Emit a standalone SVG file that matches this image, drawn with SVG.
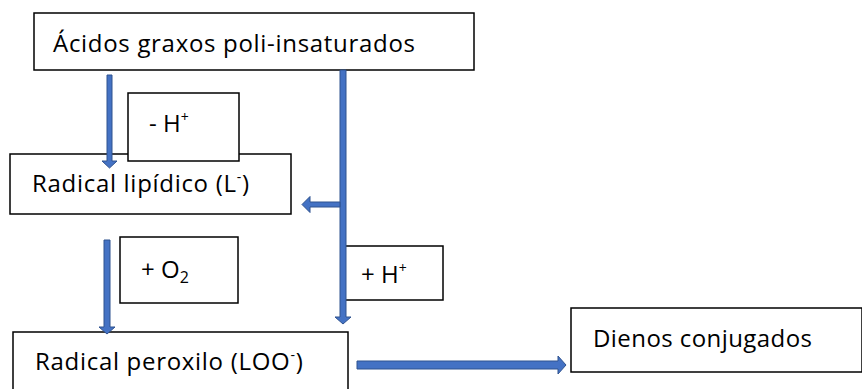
<svg xmlns="http://www.w3.org/2000/svg" width="862" height="389" viewBox="0 0 862 389">
<style>
.box{fill:#fff;stroke:#000;stroke-width:1.5}
.t{font-family:"Open Sans","Liberation Sans",sans-serif;font-size:24px;fill:#000}
.w{letter-spacing:0.7px}
.sup{font-size:14px}
.arr{fill:#4472C4;stroke:#2F528F;stroke-width:1}
</style>
<rect width="862" height="389" fill="#fff"/>
<g id="n-acidos">
<rect class="box" x="34" y="13" width="440" height="57"/>
<text class="t" x="53" y="52" textLength="362">Ácidos graxos poli-insaturados</text>
</g>
<g id="n-lipidico">
<rect class="box" x="10" y="154" width="281" height="60"/>
<text class="t w" x="32" y="192">Radical lipídico (L<tspan class="sup" dy="-10">-</tspan><tspan dy="10">)</tspan></text>
</g>
<g id="n-menosH">
<rect class="box" x="128" y="93" width="111" height="68"/>
<text class="t" x="149" y="132">- H<tspan class="sup" dy="-10">+</tspan></text>
</g>
<g id="n-O2">
<rect class="box" x="120" y="237" width="118" height="66"/>
<text class="t" x="141" y="278">+ O<tspan font-size="16" dy="5">2</tspan></text>
</g>
<g id="n-maisH">
<rect class="box" x="343" y="246" width="100" height="54"/>
<text class="t" x="361" y="283">+ H<tspan class="sup" dy="-10">+</tspan></text>
</g>
<g id="n-peroxilo">
<rect class="box" x="13" y="332" width="335" height="70"/>
<text class="t w" x="35" y="370">Radical peroxilo (LOO<tspan class="sup" dy="-10">-</tspan><tspan dy="10">)</tspan></text>
</g>
<g id="n-dienos">
<rect class="box" x="571" y="308" width="291" height="64"/>
<text class="t" x="593" y="347" textLength="219">Dienos conjugados</text>
</g>
<g id="connectors">
<polygon class="arr" points="107,75 112,75 112,161 117,161 109.5,168 102,161 107,161"/>
<polygon class="arr" points="104,240 110,240 110,327 115,327 107,334 99,327 104,327"/>
<polygon class="arr" points="340,70 346,70 346,317 351,317 343,324 335,317 340,317"/>
<polygon class="arr" points="340,202 310,202 310,196.5 302,204.5 310,212.5 310,207 340,207"/>
<polygon class="arr" points="357,361 558,361 558,356 566,365 558,374 558,369 357,369"/>
</g>
</svg>
